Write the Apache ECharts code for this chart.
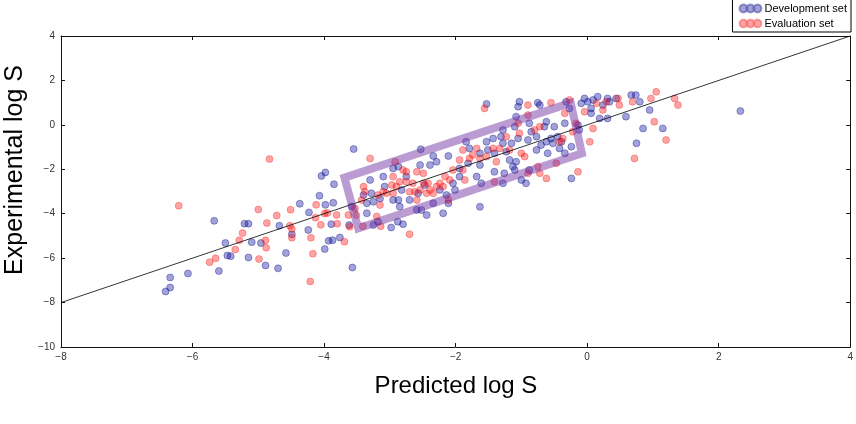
<!DOCTYPE html>
<html>
<head>
<meta charset="utf-8">
<script src="https://cdn.jsdelivr.net/npm/echarts@6/dist/echarts.min.js"></script>
<style>
  html, body { margin: 0; padding: 0; background: #fff; }
  #chart { width: 856px; height: 424px; }
</style>
</head>
<body>
<div id="chart"></div>
<script>
// development set (blue) - [predicted, experimental]
const devSet = [
  [-6.34, -6.87], [-6.34, -7.32], [-6.41, -7.50], [-6.07, -6.69], [-5.67, -4.32], [-5.60, -6.58],
  [-5.50, -5.32], [-5.47, -5.88], [-5.42, -5.91], [-5.21, -4.45], [-5.15, -4.45], [-5.15, -5.97],
  [-5.10, -5.28], [-4.96, -5.32], [-4.89, -6.33], [-4.70, -6.46], [-4.68, -4.54], [-4.58, -5.77],
  [-4.49, -4.93], [-4.37, -3.55], [-4.23, -3.94], [-4.24, -4.73], [-4.07, -3.19], [-3.99, -5.59],
  [-3.98, -3.60], [-3.93, -5.22], [-3.87, -5.19], [-3.85, -2.67], [-3.86, -3.51], [-3.89, -4.47],
  [-3.76, -5.07], [-4.04, -2.30], [-3.98, -2.14],
  [-3.55, -1.09], [-3.30, -2.48], [-3.10, -2.33], [-2.95, -1.96], [-2.87, -1.88], [-2.75, -2.33],
  [-2.54, -1.81], [-2.53, -1.10], [-2.39, -1.81], [-2.34, -1.40], [-2.29, -1.66], [-2.11, -1.40],
  [-3.58, -3.68], [-3.40, -3.16], [-3.35, -3.53], [-3.28, -3.08], [-3.25, -3.46], [-3.15, -3.31],
  [-3.08, -2.78], [-2.95, -3.38], [-2.87, -3.38], [-2.82, -2.93], [-2.85, -3.68], [-2.70, -3.38],
  [-2.59, -3.83], [-2.52, -3.83], [-2.57, -3.08], [-2.47, -2.71], [-2.44, -4.06], [-2.34, -3.53],
  [-2.24, -2.93], [-2.19, -3.98], [-2.14, -3.16], [-2.11, -3.53], [-2.04, -2.63], [-2.01, -2.93],
  [-1.94, -2.33], [-3.35, -3.98],
  [-3.62, -4.51], [-3.25, -4.51], [-3.18, -4.36], [-2.98, -4.62], [-2.88, -4.36], [-2.80, -4.47],
  [-3.57, -6.42], [-1.63, -3.69],
  [-1.53, 0.94], [-1.03, 1.04], [-1.05, 0.82], [-0.75, 1.00], [-0.72, 0.89], [-1.08, 0.37],
  [-1.10, -0.08], [-0.88, 0.07], [-0.85, -0.31], [-1.28, -0.23], [-1.43, -0.61], [-1.31, -0.53],
  [-1.28, -0.83], [-1.15, -0.83], [-1.05, -0.61], [-0.90, -0.68], [-0.77, -0.53], [-0.65, -0.08],
  [-0.62, 0.14], [-0.50, -0.08], [-0.45, -0.53], [-1.84, -0.76], [-1.79, -1.06], [-1.53, -0.76],
  [-1.51, -1.13], [-1.63, -1.28], [-1.41, -1.28], [-1.23, -1.21], [-1.18, -1.58], [-1.08, -1.66],
  [-1.10, -2.03], [-1.41, -2.11], [-1.26, -2.18], [-1.00, -2.48], [-0.93, -2.63], [-0.88, -2.03],
  [-0.77, -1.13], [-0.70, -0.91], [-0.60, -1.28], [-0.52, -0.83], [-0.42, -1.06], [-1.81, -1.73],
  [-1.94, -1.96], [-1.63, -1.81], [-1.61, -2.63], [-1.28, -2.63], [-1.13, -1.88], [-1.68, -2.33],
  [-0.62, -0.76], [-0.55, -0.61],
  [-0.32, 1.04], [-0.27, 0.74], [-0.09, 0.97], [-0.04, 1.19], [0.01, 1.04], [0.09, 1.12],
  [0.16, 1.27], [0.31, 1.19], [0.34, 1.04], [0.44, 1.19], [0.67, 1.34], [0.74, 1.34],
  [0.80, 1.04], [0.19, 0.29], [0.31, 0.29], [0.06, 0.52], [0.06, 0.74], [0.59, 0.37],
  [0.95, 0.67], [0.85, -0.16], [1.15, -0.16], [0.75, -0.83], [-0.34, 0.07], [-0.14, -0.01],
  [-0.12, -0.23], [-0.24, -0.98], [-0.34, -1.28], [-0.39, -0.76], [-0.24, -2.41], [0.24, 0.89],
  [2.33, 0.62]
]

// evaluation set (red)
const evalSet = [
  [-6.21, -3.64], [-5.74, -6.18], [-5.65, -6.01], [-5.35, -5.61], [-5.29, -5.20], [-5.24, -4.87],
  [-5.00, -3.81], [-4.99, -6.04], [-4.89, -5.20], [-4.87, -4.42], [-4.88, -5.53], [-4.72, -4.08],
  [-4.51, -3.82], [-4.52, -4.54], [-4.49, -4.69], [-4.49, -5.08], [-4.20, -5.08], [-4.17, -5.80],
  [-4.21, -7.05], [-4.12, -3.60], [-4.13, -4.18], [-4.05, -4.50], [-3.99, -3.99], [-3.95, -3.97],
  [-3.81, -4.06], [-3.80, -4.45], [-4.83, -1.54],
  [-3.30, -1.51], [-2.92, -1.66], [-2.80, -2.03], [-2.59, -2.11], [-2.49, -2.18], [-2.75, -2.56],
  [-2.65, -2.63], [-2.85, -2.56], [-2.97, -2.71], [-3.40, -2.78], [-3.38, -3.01], [-3.43, -3.38],
  [-3.53, -3.76], [-3.51, -4.06], [-3.63, -4.06], [-3.18, -3.16], [-3.10, -3.01], [-3.05, -3.08],
  [-2.90, -2.78], [-2.95, -3.08], [-2.70, -3.01], [-2.62, -3.01], [-2.54, -2.93], [-2.49, -2.63],
  [-2.42, -2.63], [-2.39, -2.93], [-2.34, -3.08], [-2.29, -2.78], [-2.24, -2.63], [-2.19, -2.78],
  [-2.16, -2.33], [-2.09, -2.48], [-2.04, -2.03], [-2.11, -3.38], [-2.95, -2.33], [-3.15, -3.61],
  [-3.20, -4.13], [-2.59, -3.38], [-2.44, -3.08], [-2.75, -2.11],
  [-3.61, -4.59], [-3.69, -5.26], [-3.14, -4.56], [-2.70, -4.92], [-3.41, -4.56],
  [-1.56, 0.74], [-0.90, 0.89], [-0.55, 1.00], [-0.90, 0.44], [-1.05, 0.07], [-0.72, -0.08],
  [-1.43, -1.06], [-1.23, -0.53], [-1.00, -1.28], [-0.95, -1.43], [-1.33, -1.06], [-1.18, -1.13],
  [-1.89, -1.13], [-1.74, -1.36], [-1.94, -1.58], [-1.89, -2.03], [-1.79, -1.51], [-1.63, -1.51],
  [-1.53, -1.43], [-1.38, -1.66], [-0.75, -1.88], [-0.72, -2.18], [-0.62, -2.41], [-0.47, -1.73],
  [-0.17, 0.07], [-0.90, -2.18], [-1.41, -2.56], [-1.86, -2.48], [-0.80, -0.23], [-0.42, -0.76],
  [-1.03, -0.38], [-1.68, -1.06],
  [-0.27, 1.12], [-0.34, 0.52], [-0.04, 0.59], [0.14, 0.97], [0.24, 0.67], [0.29, 1.04],
  [0.47, 1.19], [0.49, 0.89], [0.69, 1.04], [0.97, 1.19], [1.05, 1.49], [1.33, 1.19],
  [1.38, 0.89], [1.02, 0.14], [1.20, -0.68], [0.04, -0.76], [0.72, -1.51], [-0.14, -2.11],
  [0.09, -0.16], [-0.22, -0.31], [-0.37, -0.61]
]

// y = x reference line
const parityLine = [[-8, -8], [4, 4]]

// highlighted region (purple parallelogram corners)
const boxCorners = [[-3.69, -2.38], [-0.25, 0.99], [-0.08, -1.28], [-3.48, -4.66]]

const xRange = [-8, 4]
const yRange = [-10, 4]

const chart = echarts.init(document.getElementById('chart'))

const fmt = v => (v < 0 ? '\u2212' + Math.abs(v) : String(v))

const baseAxis = {
  type: 'value',
  interval: 2,
  splitLine: { show: false },
  axisLine: { onZero: false, lineStyle: { color: '#111', width: 1 } },
  axisTick: { inside: true, length: 4, lineStyle: { color: '#111' } },
  axisLabel: { color: '#333', fontSize: 10, fontFamily: 'Liberation Sans', formatter: fmt }
}

// three circles, like the matplotlib legend marker
const legendIcon = 'path://M0,4a4,4 0 1,0 8,0a4,4 0 1,0 -8,0M7,4a4,4 0 1,0 8,0a4,4 0 1,0 -8,0M14,4a4,4 0 1,0 8,0a4,4 0 1,0 -8,0'

const option = {
  animation: false,
  backgroundColor: '#fff',
  grid: { left: 61, right: 5, top: 36, bottom: 77 },
  legend: {
    right: 5,
    top: -1,
    orient: 'vertical',
    align: 'left',
    borderColor: '#000',
    borderWidth: 1,
    borderRadius: 0,
    backgroundColor: '#fff',
    padding: [4, 4, 3, 6],
    itemGap: 4,
    itemWidth: 22,
    itemHeight: 8,
    icon: legendIcon,
    textStyle: { fontSize: 11, fontFamily: 'Liberation Sans', color: '#000', padding: [0, 0, 0, -2] },
    data: ['Development set', 'Evaluation set']
  },
  xAxis: [
    Object.assign({}, baseAxis, { min: xRange[0], max: xRange[1], position: 'bottom',
      axisLabel: Object.assign({}, baseAxis.axisLabel, { margin: 5 }) }),
    Object.assign({}, baseAxis, { min: xRange[0], max: xRange[1], position: 'top',
      axisLabel: { show: false } })
  ],
  yAxis: [
    Object.assign({}, baseAxis, { min: yRange[0], max: yRange[1], position: 'left',
      axisLabel: Object.assign({}, baseAxis.axisLabel, { margin: 6 }) }),
    Object.assign({}, baseAxis, { min: yRange[0], max: yRange[1], position: 'right',
      axisLabel: { show: false } })
  ],
  graphic: [
    {
      type: 'text', x: 456, y: 386, z: 100,
      style: { text: 'Predicted log S', fontSize: 24, fontFamily: 'Liberation Sans', fill: '#000',
        align: 'center', verticalAlign: 'middle' }
    },
    {
      type: 'text', x: 15, y: 170, rotation: Math.PI / 2, z: 100,
      style: { text: 'Experimental log S', fontSize: 25, fontFamily: 'Liberation Sans', fill: '#000',
        align: 'center', verticalAlign: 'middle' }
    }
  ],
  series: [
    {
      name: 'Development set',
      type: 'scatter',
      data: devSet,
      symbolSize: 7,
      z: 2,
      itemStyle: { color: 'rgba(20,20,165,0.5)', borderColor: 'rgba(10,10,120,0.45)', borderWidth: 1 }
    },
    {
      name: 'Evaluation set',
      type: 'scatter',
      data: evalSet,
      symbolSize: 7,
      z: 3,
      itemStyle: { color: 'rgba(255,0,0,0.45)', borderColor: 'rgba(230,0,0,0.35)', borderWidth: 1 }
    },
    {
      type: 'line',
      data: parityLine,
      symbol: 'none',
      silent: true,
      z: 4,
      lineStyle: { color: '#000', width: 0.8 }
    },
    {
      type: 'line',
      data: boxCorners.concat([boxCorners[0], boxCorners[1]]),
      symbol: 'none',
      silent: true,
      z: 5,
      lineStyle: { color: 'rgba(112,48,160,0.48)', width: 8, join: 'miter' }
    }
  ]
}

chart.setOption(option)
</script>
</body>
</html>
